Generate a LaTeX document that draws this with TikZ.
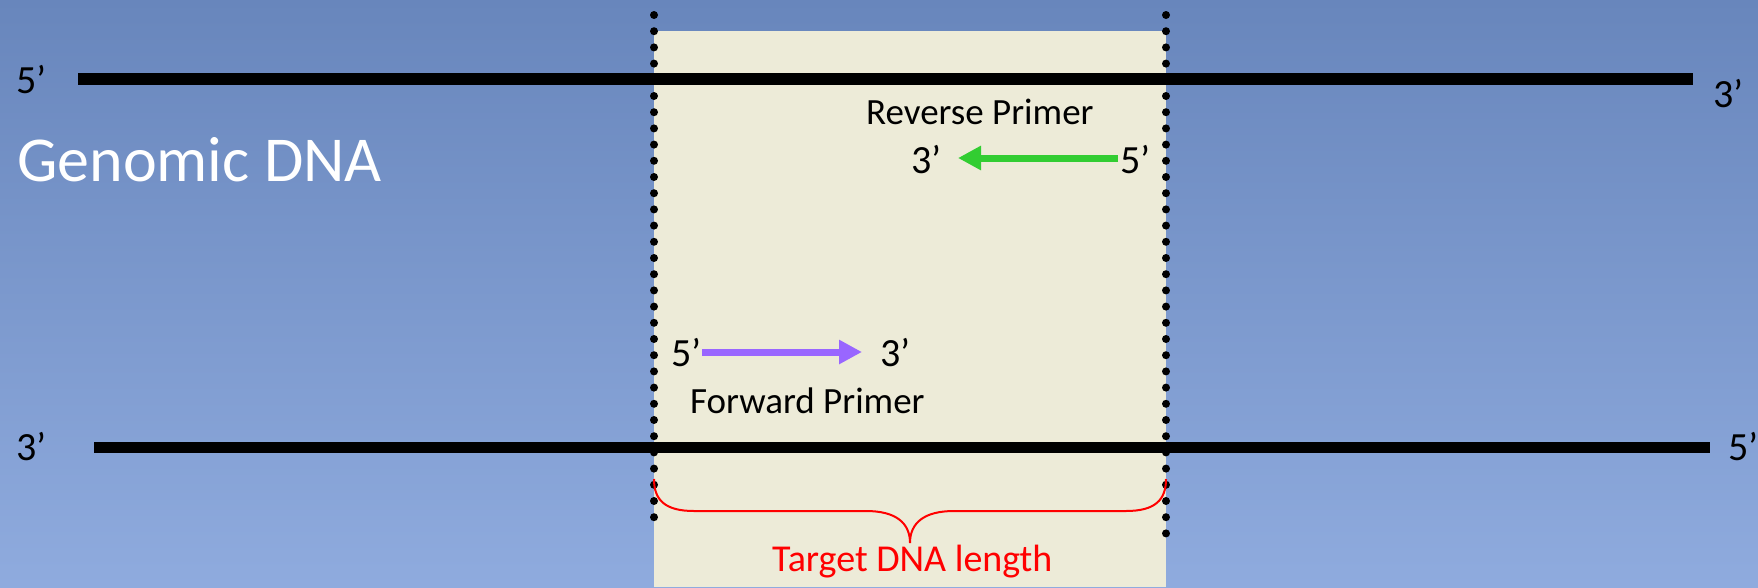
\documentclass[tikz,border=0pt]{standalone}
\usepackage{fontspec}
\setmainfont{Carlito}
\usetikzlibrary{arrows.meta}
\definecolor{bgtop}{RGB}{104,134,188}
\definecolor{bgbot}{RGB}{143,171,222}
\definecolor{beige}{RGB}{237,235,216}
\definecolor{primergreen}{RGB}{50,205,50}
\definecolor{primerpurple}{RGB}{153,102,255}
\tikzset{
  lbl/.style={inner sep=0pt, anchor=base west, font=\fontsize{40}{44}\selectfont},
  smalllbl/.style={inner sep=0pt, anchor=base west, font=\fontsize{37}{42}\selectfont},
  strand/.style={line width=12pt, black},
  dotline/.style={line width=8pt, line cap=round, dash pattern=on 0pt off 16.2pt, black},
  primer/.style={line width=7pt, -{Triangle[length=23pt,width=23pt]}},
}
\begin{document}
\begin{tikzpicture}[x=1pt,y=-1pt]
\shade[top color=bgtop, bottom color=bgbot] (0,0) rectangle (1758,587);
\useasboundingbox (0,0) rectangle (1758,587);
% target region
\fill[beige] (654,31) rectangle (1166,587);
% strands
\coordinate (t1) at (78,79);
\coordinate (t2) at (1693,79);
\coordinate (b1) at (94,447);
\coordinate (b2) at (1710,447);
\draw[strand] (t1) -- (t2);
\draw[strand, line width=11pt] (b1) -- (b2);
% dotted boundaries
\coordinate (dl1) at (654,15);
\coordinate (dl2) at (654,520);
\coordinate (dr1) at (1166,15);
\coordinate (dr2) at (1166,537);
\draw[dotline] (dl1) -- (dl2);
\draw[dotline] (dr1) -- (dr2);
% strand end labels
\node[lbl] (t5) at (16,93) {5’};
\node[lbl] (t3) at (1713,107) {3’};
\node[lbl] (b3) at (16,460) {3’};
\node[lbl] (b5) at (1728,460) {5’};
\node[inner sep=0pt, anchor=base west, text=white, font=\fontsize{64}{72}\selectfont] (gdna) at (17,181) {Genomic DNA};
% reverse primer
\node[smalllbl] (rp) at (866,124) {Reverse Primer};
\node[lbl] (r3) at (911,173) {3’};
\node[lbl] (r5) at (1120,173) {5’};
\coordinate (rs) at (1118,158);
\coordinate (re) at (958,158);
\draw[primer, primergreen] (rs) -- (re);
% forward primer
\node[lbl] (f5) at (671,366) {5’};
\node[lbl] (f3) at (880,366) {3’};
\node[smalllbl] (fp) at (690,413) {Forward Primer};
\coordinate (fs) at (702,352);
\coordinate (fe) at (862,352);
\draw[primer, primerpurple] (fs) -- (fe);
% brace
\coordinate (bl) at (654,479);
\coordinate (bm) at (910,543);
\coordinate (br) at (1166,479);
\draw[red, line width=2pt]
  (bl) .. controls (654,500) and (665,511) .. (694,511)
  -- (866,511) .. controls (896,511) and (910,523) .. (bm)
  .. controls (910,523) and (924,511) .. (954,511)
  -- (1126,511) .. controls (1155,511) and (1166,500) .. (br);
\node[smalllbl, text=red, font=\fontsize{38}{43}\selectfont] (tdl) at (772,571) {Target DNA length};
\end{tikzpicture}
\end{document}
